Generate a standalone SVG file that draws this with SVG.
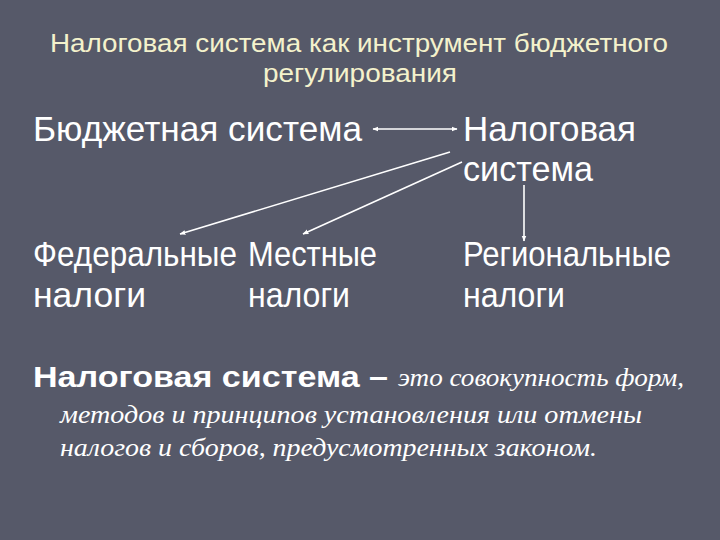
<svg xmlns="http://www.w3.org/2000/svg" width="720" height="540" viewBox="0 0 720 540">
<defs>
<style>
.t{font-family:"Liberation Sans","DejaVu Sans",sans-serif;fill:#f4f2cc;font-size:25px}
.n{font-family:"Liberation Sans","DejaVu Sans",sans-serif;fill:#ffffff;font-size:35px}
.b{font-family:"Liberation Sans","DejaVu Sans",sans-serif;fill:#ffffff;font-size:29px;font-weight:bold}
.i{font-family:"Liberation Serif","DejaVu Serif",serif;fill:#ffffff;font-size:25px;font-style:italic}
.c{stroke:#ffffff;stroke-width:1.6;fill:none}
</style>
<marker id="ah" viewBox="0 0 10 10" refX="9" refY="5" markerWidth="6" markerHeight="6" orient="auto-start-reverse" markerUnits="userSpaceOnUse">
<path d="M0,1 L10,5 L0,9 Z" fill="#ffffff"/>
</marker>
</defs>
<rect width="720" height="540" fill="#565969"/>
<g id="title">
<text class="t" x="50" y="52" textLength="618" lengthAdjust="spacingAndGlyphs">Налоговая система как инструмент бюджетного</text>
<text class="t" x="263" y="82" textLength="194" lengthAdjust="spacingAndGlyphs">регулирования</text>
</g>
<g id="budget">
<text class="n" x="33" y="141" textLength="329" lengthAdjust="spacingAndGlyphs">Бюджетная система</text>
</g>
<g id="tax">
<text class="n" x="463" y="141" textLength="173" lengthAdjust="spacingAndGlyphs">Налоговая</text>
<text class="n" x="463" y="181" textLength="130" lengthAdjust="spacingAndGlyphs">система</text>
</g>
<g id="federal">
<text class="n" x="33" y="266" textLength="204" lengthAdjust="spacingAndGlyphs">Федеральные</text>
<text class="n" x="33" y="307" textLength="113" lengthAdjust="spacingAndGlyphs">налоги</text>
</g>
<g id="local">
<text class="n" x="248" y="266" textLength="129" lengthAdjust="spacingAndGlyphs">Местные</text>
<text class="n" x="248" y="307" textLength="102" lengthAdjust="spacingAndGlyphs">налоги</text>
</g>
<g id="regional">
<text class="n" x="463" y="266" textLength="208" lengthAdjust="spacingAndGlyphs">Региональные</text>
<text class="n" x="463" y="307" textLength="102" lengthAdjust="spacingAndGlyphs">налоги</text>
</g>
<g id="definition">
<text class="b" x="33" y="387" textLength="355" lengthAdjust="spacingAndGlyphs">Налоговая система –</text>
<text class="i" x="398" y="386" textLength="286" lengthAdjust="spacingAndGlyphs">это совокупность форм,</text>
<text class="i" x="60" y="423" textLength="582" lengthAdjust="spacingAndGlyphs">методов и принципов установления или отмены</text>
<text class="i" x="60" y="456" textLength="537" lengthAdjust="spacingAndGlyphs">налогов и сборов, предусмотренных законом.</text>
</g>
<g id="connectors">
<line class="c" x1="373" y1="129" x2="457" y2="129" marker-start="url(#ah)" marker-end="url(#ah)"/>
<line class="c" x1="450" y1="152" x2="180" y2="234" marker-end="url(#ah)"/>
<line class="c" x1="462" y1="162" x2="303" y2="234" marker-end="url(#ah)"/>
<line class="c" x1="524" y1="185" x2="524" y2="241" marker-end="url(#ah)"/>
</g>
</svg>
